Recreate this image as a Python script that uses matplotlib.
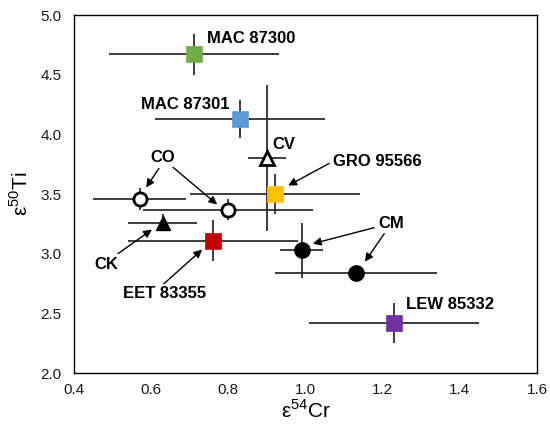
import matplotlib.pyplot as plt

plt.rcParams['font.family'] = ['Liberation Sans', 'DejaVu Sans']
plt.rcParams['mathtext.fontset'] = 'custom'
plt.rcParams['mathtext.rm'] = 'Liberation Sans'

# Individual meteorites (squares)
sq_names = ['MAC 87300', 'MAC 87301', 'GRO 95566', 'EET 83355', 'LEW 85332']
sq_cr = [0.71, 0.83, 0.92, 0.76, 1.23]
sq_ti = [4.67, 4.13, 3.50, 3.11, 2.42]
sq_cr_err = [0.22, 0.22, 0.22, 0.22, 0.22]
sq_ti_err = [0.17, 0.16, 0.17, 0.17, 0.17]
sq_colors = ['#70AD47', '#5B9BD5', '#FFC000', '#C00000', '#7030A0']

# Carbonaceous chondrite groups
co_cr = [0.57, 0.80]
co_ti = [3.46, 3.37]
co_cr_err = [0.12, 0.22]
co_ti_err = [0.09, 0.09]

cm_cr = [0.99, 1.13]
cm_ti = [3.03, 2.84]
cm_cr_err = [0.055, 0.21]
cm_ti_err = [0.23, 0.0]

cv_cr = [0.90]
cv_ti = [3.80]
cv_cr_err = [0.05]
cv_ti_err = [0.61]

ck_cr = [0.63]
ck_ti = [3.26]
ck_cr_err = [0.09]
ck_ti_err = [0.07]

fig = plt.figure(figsize=(5.5, 4.29), dpi=100)
ax = fig.add_axes([0.1345, 0.1305, 0.842, 0.8345])

err_kw = dict(fmt='none', ecolor='#262626', elinewidth=1.25, capsize=0, zorder=2)

ax.errorbar(sq_cr, sq_ti, xerr=sq_cr_err, yerr=sq_ti_err, **err_kw)
ax.errorbar(co_cr, co_ti, xerr=co_cr_err, yerr=co_ti_err, **err_kw)
ax.errorbar(cm_cr, cm_ti, xerr=cm_cr_err, yerr=cm_ti_err, **err_kw)
ax.errorbar(cv_cr, cv_ti, xerr=cv_cr_err, yerr=cv_ti_err, **err_kw)
ax.errorbar(ck_cr, ck_ti, xerr=ck_cr_err, yerr=ck_ti_err, **err_kw)

for x, y, c in zip(sq_cr, sq_ti, sq_colors):
    ax.plot(x, y, 's', ms=11.5, mfc=c, mec=c, mew=0.5, zorder=3)
ax.plot(co_cr, co_ti, 'o', ms=9.5, mfc='white', mec='black', mew=2, ls='none', zorder=3)
ax.plot(cm_cr, cm_ti, 'o', ms=11, mfc='black', mec='black', ls='none', zorder=3)
ax.plot(cv_cr, cv_ti, '^', ms=10, mfc='white', mec='black', mew=2, ls='none', zorder=3)
ax.plot(ck_cr, ck_ti, '^', ms=10, mfc='black', mec='black', ls='none', zorder=3)

# labels
lab_kw = dict(fontsize=12, fontweight='bold', va='center')
ax.text(0.745, 4.807, 'MAC 87300', ha='left', **lab_kw)
ax.text(0.804, 4.252, 'MAC 87301', ha='right', **lab_kw)
ax.text(0.913, 3.916, 'CV', ha='left', **lab_kw)
ax.text(0.631, 3.807, 'CO', ha='center', **lab_kw)
ax.text(0.483, 2.908, 'CK', ha='center', **lab_kw)
ax.text(0.636, 2.664, 'EET 83355', ha='center', **lab_kw)
ax.text(1.071, 3.773, 'GRO 95566', ha='left', **lab_kw)
ax.text(1.188, 3.252, 'CM', ha='left', **lab_kw)
ax.text(1.261, 2.571, 'LEW 85332', ha='left', **lab_kw)

# arrows (start -> tip)
arrows = [
    ((0.620, 3.714), (0.587, 3.555)),
    ((0.657, 3.723), (0.771, 3.412)),
    ((0.514, 3.000), (0.602, 3.202)),
    ((0.633, 2.748), (0.732, 3.034)),
    ((1.061, 3.756), (0.955, 3.571)),
    ((1.178, 3.218), (1.019, 3.084)),
    ((1.204, 3.168), (1.154, 2.933)),
]
for start, tip in arrows:
    ax.annotate('', xy=tip, xytext=start,
                arrowprops=dict(arrowstyle='-|>', color='black', lw=1,
                                mutation_scale=12, shrinkA=0, shrinkB=0),
                zorder=4)

ax.set_xlim(0.4, 1.6)
ax.set_ylim(2.0, 5.0)
ax.set_xticks([0.4, 0.6, 0.8, 1.0, 1.2, 1.4, 1.6])
ax.set_yticks([2.0, 2.5, 3.0, 3.5, 4.0, 4.5, 5.0])
ax.xaxis.set_major_formatter(plt.FormatStrFormatter('%.1f'))
ax.yaxis.set_major_formatter(plt.FormatStrFormatter('%.1f'))
ax.tick_params(axis='both', length=0, labelsize=11, colors='#1a1a1a')
ax.tick_params(axis='x', pad=7)
ax.tick_params(axis='y', pad=9)
for s in ax.spines.values():
    s.set_linewidth(1.0)
    s.set_color('black')

ax.set_xlabel('ε$^{54}$Cr', fontsize=15, labelpad=2)
ax.set_ylabel('ε$^{50}$Ti', fontsize=15, labelpad=6)

plt.savefig('out.png', dpi=100)
plt.close()
